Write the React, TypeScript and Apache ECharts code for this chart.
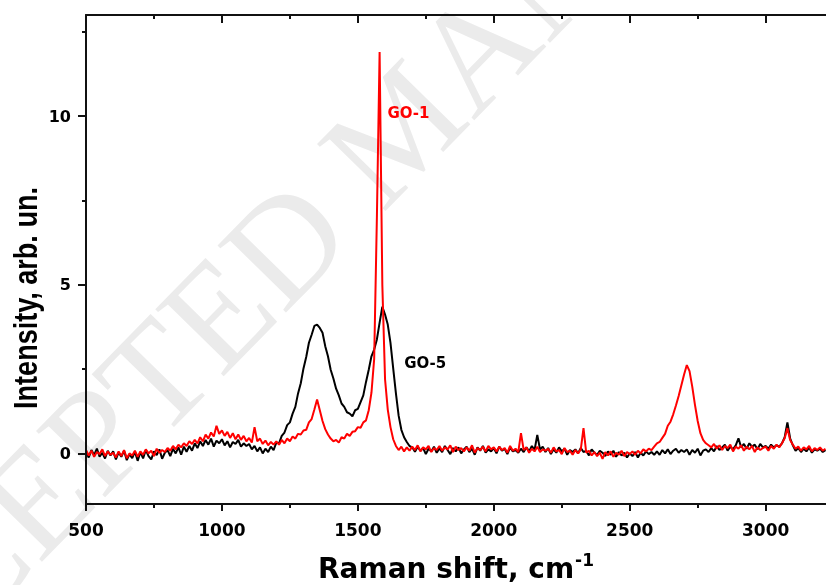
import React, { useEffect, useRef } from "react";
import * as echarts from "echarts";

const GO5: number[] = [
  0.05, -0.12, 0.10, -0.05, 0.14, -0.10, 0.02, -0.15, 0.08, -0.06,
  0.06, -0.18, 0.03, -0.10, 0.08, -0.20, -0.02, -0.14, 0.05, -0.22,
  0.04, -0.15, 0.10, -0.08, -0.18, 0.06, -0.05, 0.12, -0.16, 0.02,
  0.10, -0.08, 0.14, 0.00, 0.18, -0.04, 0.20, 0.05, 0.22, 0.08,
  0.30, 0.16, 0.36, 0.22, 0.40, 0.26, 0.44, 0.20, 0.38, 0.30,
  0.42, 0.24, 0.36, 0.18, 0.34, 0.28, 0.40, 0.20, 0.30, 0.22,
  0.28, 0.12, 0.22, 0.06, 0.18, 0.00, 0.14, 0.04, 0.20, 0.10,
  0.32, 0.30, 0.52, 0.62, 0.84, 0.92, 1.18, 1.38, 1.78, 2.08,
  2.52, 2.86, 3.28, 3.52, 3.78, 3.82, 3.72, 3.58, 3.18, 2.88,
  2.48, 2.22, 1.92, 1.72, 1.48, 1.38, 1.22, 1.18, 1.10, 1.28,
  1.32, 1.52, 1.72, 2.12, 2.48, 2.88, 3.08, 3.38, 3.88, 4.35,
  4.12, 3.82, 3.28, 2.52, 1.78, 1.12, 0.70, 0.48, 0.34, 0.22,
  0.18, 0.05, 0.20, 0.08, 0.16, -0.02, 0.14, 0.06, 0.20, 0.02,
  0.15, 0.04, 0.22, 0.10, -0.02, 0.16, 0.06, 0.18, 0.00, 0.12,
  0.20, 0.04, 0.14, -0.04, 0.18, 0.08, 0.22, 0.02, 0.12, 0.06,
  0.16, 0.00, 0.20, 0.08, 0.14, -0.02, 0.18, 0.06, 0.10, 0.02,
  0.14, 0.04, 0.18, 0.06, 0.22, 0.10, 0.55, 0.12, 0.20, 0.04,
  0.16, -0.02, 0.12, 0.02, 0.18, 0.06, 0.14, -0.04, 0.10, 0.04,
  0.12, 0.00, 0.16, 0.04, 0.08, -0.06, 0.12, 0.02, -0.04, 0.08,
  0.02, -0.08, 0.06, -0.04, 0.08, -0.10, 0.04, -0.06, 0.02, -0.12,
  0.00, -0.08, 0.04, -0.12, 0.02, -0.06, 0.06, -0.02, 0.04, -0.04,
  0.06, -0.04, 0.10, 0.00, 0.12, -0.02, 0.08, 0.14, 0.02, 0.10,
  0.04, 0.12, -0.04, 0.10, 0.02, 0.14, -0.06, 0.08, 0.12, 0.04,
  0.16, 0.06, 0.22, 0.10, 0.18, 0.26, 0.08, 0.20, 0.12, 0.24,
  0.45, 0.18, 0.28, 0.14, 0.30, 0.20, 0.26, 0.12, 0.28, 0.18,
  0.22, 0.14, 0.26, 0.18, 0.24, 0.20, 0.30, 0.48, 0.92, 0.45,
  0.24, 0.08, 0.16, 0.04, 0.14, 0.06, 0.18, 0.02, 0.12, 0.08,
  0.14, 0.04, 0.10,
];

const GO1: number[] = [
  0.10, -0.06, 0.08, -0.10, 0.04, -0.02, 0.12, -0.08, 0.06, -0.04,
  0.02, -0.12, 0.06, -0.08, 0.10, -0.14, 0.00, -0.06, 0.08, -0.10,
  0.06, -0.04, 0.12, 0.00, 0.08, -0.08, 0.14, 0.02, 0.10, 0.04,
  0.16, 0.08, 0.22, 0.12, 0.26, 0.18, 0.30, 0.22, 0.36, 0.28,
  0.40, 0.30, 0.48, 0.36, 0.56, 0.44, 0.62, 0.50, 0.82, 0.58,
  0.68, 0.52, 0.64, 0.46, 0.60, 0.42, 0.56, 0.40, 0.52, 0.36,
  0.46, 0.32, 0.78, 0.36, 0.44, 0.28, 0.38, 0.24, 0.34, 0.26,
  0.36, 0.26, 0.40, 0.30, 0.44, 0.36, 0.50, 0.44, 0.58, 0.56,
  0.68, 0.70, 0.92, 1.02, 1.30, 1.60, 1.28, 0.96, 0.72, 0.56,
  0.44, 0.36, 0.40, 0.32, 0.48, 0.44, 0.58, 0.52, 0.64, 0.66,
  0.78, 0.76, 0.92, 0.98, 1.28, 1.80, 2.80, 7.00, 11.90, 5.00,
  2.20, 1.30, 0.78, 0.42, 0.22, 0.10, 0.20, 0.06, 0.18, 0.08,
  0.20, 0.10, 0.24, 0.06, 0.18, 0.12, 0.22, 0.04, 0.16, 0.10,
  0.22, 0.08, 0.18, 0.12, 0.24, 0.04, 0.20, 0.10, 0.16, 0.06,
  0.18, 0.08, 0.24, 0.02, 0.16, 0.10, 0.20, 0.06, 0.22, 0.12,
  0.18, 0.06, 0.20, 0.10, 0.16, 0.02, 0.22, 0.08, 0.14, 0.04,
  0.60, 0.10, 0.18, 0.02, 0.14, 0.06, 0.20, 0.04, 0.12, 0.08,
  0.14, 0.02, 0.18, 0.06, 0.10, -0.02, 0.16, 0.04, 0.08, -0.04,
  0.10, 0.00, 0.12, 0.75, 0.02, 0.08, -0.06, 0.04, -0.08, 0.02,
  -0.16, 0.04, -0.06, 0.06, -0.10, 0.02, -0.04, 0.08, -0.08, 0.04,
  -0.02, 0.06, -0.04, 0.08, 0.00, 0.12, 0.06, 0.14, 0.10, 0.20,
  0.30, 0.34, 0.46, 0.58, 0.82, 0.94, 1.16, 1.42, 1.70, 2.02,
  2.34, 2.62, 2.44, 1.98, 1.44, 0.96, 0.60, 0.40, 0.30, 0.24,
  0.18, 0.28, 0.14, 0.24, 0.10, 0.22, 0.16, 0.26, 0.06, 0.20,
  0.14, 0.24, 0.08, 0.20, 0.12, 0.22, 0.04, 0.18, 0.10, 0.16,
  0.20, 0.08, 0.22, 0.14, 0.26, 0.18, 0.30, 0.45, 0.75, 0.40,
  0.26, 0.14, 0.20, 0.08, 0.18, 0.12, 0.22, 0.06, 0.16, 0.10,
  0.18, 0.08, 0.14,
];

const START_WAVENUMBER = 500;
const STEP_WAVENUMBER = 10;
const WAVENUMBERS: number[] = GO5.map((_, i) => START_WAVENUMBER + STEP_WAVENUMBER * i);

const X_MAJOR = [500, 1000, 1500, 2000, 2500, 3000];
const X_MINOR = [750, 1250, 1750, 2250, 2750];
const Y_MAJOR = [0, 5, 10];
const Y_MINOR = [2.5, 7.5, 12.5];

const X_MIN = 500;
const X_MAX = 3222;
const Y_MIN = -1.5;
const Y_MAX = 13;

// curve labels: [wavenumber, intensity] where each label is centred
const LABEL_NAMES = ["GO-1", "GO-5"];
const LABEL_COLORS = ["#ff0000", "#000000"];
const LABEL_COORDS = [
  [1686, 10.1],
  [1748, 2.68],
];

const AXIS_COLOR = "#111";

export default function App() {
  const ref = useRef<HTMLDivElement>(null);

  useEffect(() => {
    if (!ref.current) return;
    const chart = echarts.init(ref.current, undefined, { renderer: "svg" });

    const xAxisDef = (position: "top" | "bottom", ticks: number[], len: number, inside: boolean, line: boolean, labels: boolean) => ({
      type: "value",
      position,
      z: 5,
      min: X_MIN,
      max: X_MAX,
      axisLine: { show: line, onZero: false, lineStyle: { color: AXIS_COLOR, width: 2 } },
      axisTick: { show: true, inside, length: len, customValues: ticks, lineStyle: { color: AXIS_COLOR, width: 2 } },
      axisLabel: labels
        ? {
            show: true,
            customValues: ticks,
            margin: 17,
            color: "#000",
            fontFamily: "DejaVu Sans",
            fontWeight: "bold",
            fontSize: 17,
            formatter: (v: number) => String(v),
          }
        : { show: false },
      splitLine: { show: false },
    });

    const yAxisDef = (ticks: number[], len: number, line: boolean, labels: boolean) => ({
      type: "value",
      position: "left",
      z: 5,
      min: Y_MIN,
      max: Y_MAX,
      axisLine: { show: line, onZero: false, lineStyle: { color: AXIS_COLOR, width: 2 } },
      axisTick: { show: true, length: len, customValues: ticks, lineStyle: { color: AXIS_COLOR, width: 2 } },
      axisLabel: labels
        ? {
            show: true,
            customValues: ticks,
            margin: 15,
            color: "#000",
            fontFamily: "DejaVu Sans",
            fontWeight: "bold",
            fontSize: 16,
            formatter: (v: number) => String(v),
          }
        : { show: false },
      splitLine: { show: false },
    });

    chart.setOption({
      animation: false,
      grid: { left: 86, top: 15, right: 0, bottom: 81 },
      xAxis: [
        xAxisDef("bottom", X_MAJOR, 7, false, true, true),
        xAxisDef("bottom", X_MINOR, 4, false, false, false),
        xAxisDef("top", X_MAJOR, 8, true, true, false),
        xAxisDef("top", X_MINOR, 4, true, false, false),
      ],
      yAxis: [yAxisDef(Y_MAJOR, 8, true, true), yAxisDef(Y_MINOR, 4, false, false)],
      series: [
        {
          name: "decor",
          type: "custom",
          clip: false,
          z: 1,
          data: [[X_MIN, Y_MIN]],
          renderItem: () => ({
            type: "group",
            children: [
              {
                type: "text",
                x: 400,
                y: 126,
                rotation: 0.796,
                style: {
                  text: "ACCEPTED MANUSCRIPT",
                  fill: "#ebebeb",
                  font: '146px "Liberation Serif"',
                  align: "center",
                  verticalAlign: "middle",
                  textAlign: "center",
                  textVerticalAlign: "middle",
                },
              },
              {
                type: "text",
                x: 26,
                y: 298,
                rotation: Math.PI / 2,
                scaleX: 0.82,
                style: {
                  text: "Intensity, arb. un.",
                  fill: "#000",
                  font: 'bold 33px "Liberation Sans"',
                  align: "center",
                  verticalAlign: "middle",
                  textAlign: "center",
                  textVerticalAlign: "middle",
                },
              },
              {
                type: "text",
                x: 456,
                y: 568,
                style: {
                  text: "{a|Raman shift, cm}{b|-1}",
                  fill: "#000",
                  align: "center",
                  verticalAlign: "middle",
                  textAlign: "center",
                  textVerticalAlign: "middle",
                  rich: {
                    a: { font: 'bold 28px "DejaVu Sans"', fill: "#000" },
                    b: { font: 'bold 17px "DejaVu Sans"', fill: "#000", padding: [0, 0, 16, 1] },
                  },
                },
              },
            ],
          }),
        },
        {
          name: "GO-5",
          type: "line",
          z: 2,
          data: WAVENUMBERS.map((x, i) => [x, GO5[i]]),
          showSymbol: false,
          lineStyle: { color: "#000", width: 2 },
          itemStyle: { color: "#000" },
        },
        {
          name: "GO-1",
          type: "line",
          z: 3,
          data: WAVENUMBERS.map((x, i) => [x, GO1[i]]),
          showSymbol: false,
          lineStyle: { color: "#ff0000", width: 2 },
          itemStyle: { color: "#ff0000" },
        },
        {
          name: "labels",
          type: "custom",
          clip: false,
          z: 4,
          data: LABEL_COORDS.map((c, i) => [c[0], c[1], i]),
          renderItem: (_p: any, api: any) => {
            const p = api.coord([api.value(0), api.value(1)]);
            const i = api.value(2);
            return {
              type: "text",
              x: p[0],
              y: p[1],
              style: {
                text: LABEL_NAMES[i],
                fill: LABEL_COLORS[i],
                font: 'bold 15px "DejaVu Sans"',
                align: "center",
                verticalAlign: "middle",
                textAlign: "center",
                textVerticalAlign: "middle",
              },
            };
          },
        },
      ],
    });

    return () => chart.dispose();
  }, []);

  return <div ref={ref} style={{ position: "fixed", left: 0, top: 0, width: 826, height: 585 }} />;
}
